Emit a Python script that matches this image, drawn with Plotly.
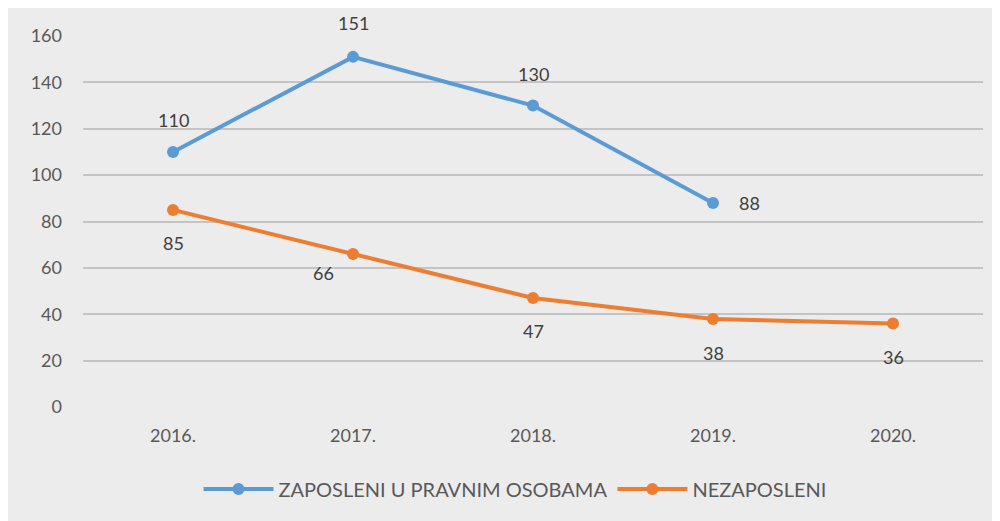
import plotly.graph_objects as go

years = ["2016.", "2017.", "2018.", "2019.", "2020."]
zaposleni = [110, 151, 130, 88, None]
nezaposleni = [85, 66, 47, 38, 36]
name_a = "ZAPOSLENI U PRAVNIM OSOBAMA"
name_b = "NEZAPOSLENI"

FONT = "Lato, 'Open Sans', sans-serif"
blue = "#5B9BD5"
orange = "#ED7D31"
label_color = "#404040"

fig = go.Figure()
fig.add_trace(go.Scatter(
    x=years, y=zaposleni, name=name_a, mode="lines+markers",
    line=dict(color=blue, width=4), marker=dict(size=12, color=blue),
    cliponaxis=False,
))
fig.add_trace(go.Scatter(
    x=years, y=nezaposleni, name=name_b, mode="lines+markers",
    line=dict(color=orange, width=4), marker=dict(size=12, color=orange),
    cliponaxis=False,
))

# label offsets (pixels) relative to each point
blue_pos = [(0, 32), (0, 34), (0, 32), (36, 0), None]
orange_pos = [(0, -33), (-30, -19), (0, -33), (0, -34), (0, -33)]
for i, (v, p) in enumerate(zip(zaposleni, blue_pos)):
    if v is None:
        continue
    fig.add_annotation(x=i, y=v, xref="x", yref="y", text=str(v), showarrow=False,
                       xshift=p[0], yshift=p[1],
                       font=dict(size=18, color=label_color, family=FONT))
for i, (v, p) in enumerate(zip(nezaposleni, orange_pos)):
    fig.add_annotation(x=i, y=v, xref="x", yref="y", text=str(v), showarrow=False,
                       xshift=p[0], yshift=p[1],
                       font=dict(size=18, color=label_color, family=FONT))

# figure is shown offset by 8px inside the page
OX, OY = 8, 8
L, R, T, B = 83 - OX, 983 - OX, 36 - OY, 407 - OY
W, H = R - L, B - T
def py(y): return (B - (y - OY)) / H

fig.update_layout(
    width=1000, height=521,
    margin=dict(l=L, r=1000 - R, t=T, b=521 - B, autoexpand=False),
    paper_bgcolor="#ECECEC", plot_bgcolor="#ECECEC",
    font=dict(family=FONT, size=18, color="#595959"),
    showlegend=True,
    legend=dict(orientation="h", x=0.48, xanchor="center", y=py(489), yanchor="middle",
                font=dict(size=20, color="#595959"), bgcolor="rgba(0,0,0,0)",
                itemwidth=70, tracegroupgap=0),
    xaxis=dict(range=[-0.5, 4.5], showgrid=False, showline=False, zeroline=False, ticks="",
               tickfont=dict(size=18, color="#595959"), fixedrange=True, ticklabelstandoff=16),
    yaxis=dict(range=[0, 160], dtick=20, showgrid=True, gridcolor="#C4C4C4", gridwidth=1.5,
               zeroline=False, showline=False, ticks="", ticklabelstandoff=20,
               tickfont=dict(size=18, color="#595959")),
)

fig.write_html("out.html")
